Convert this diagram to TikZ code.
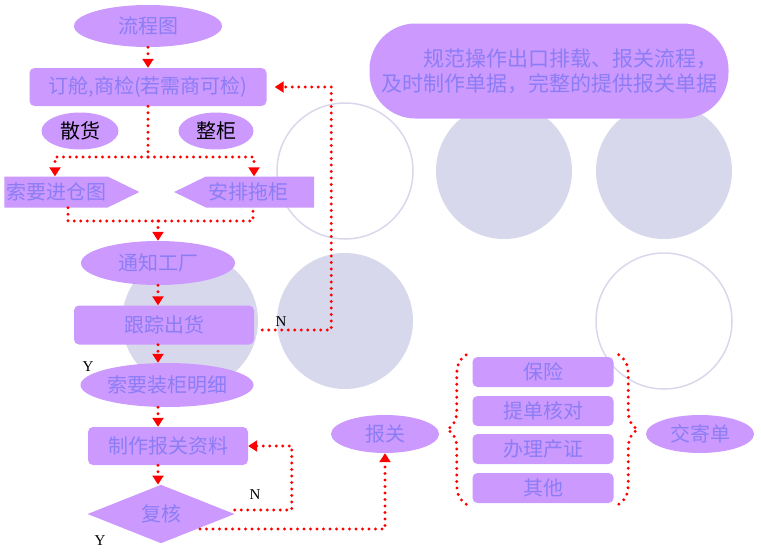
\documentclass[tikz,border=0pt]{standalone}
\usepackage{fontspec}
\setmainfont{Noto Sans CJK SC}
\newfontfamily\yesno{Liberation Serif}
\usetikzlibrary{shapes.geometric,shapes.symbols,arrows.meta,decorations.pathreplacing}
\definecolor{boxfill}{RGB}{204,153,255}
\definecolor{boxtext}{RGB}{140,125,245}
\definecolor{ring}{RGB}{216,216,236}

\begin{document}
\begin{tikzpicture}[x=1pt,y=-1pt,
    flowbox/.style={fill=boxfill,text=boxtext,inner sep=0pt,font=\fontsize{20}{25}\selectfont},
    oval/.style={flowbox,ellipse},
    card/.style={flowbox,rectangle,rounded corners=5pt},
    tag/.style={flowbox,signal,signal pointer angle=52},
    query/.style={flowbox,diamond},
    link/.style={red,line width=3.3pt,line cap=round,dash pattern=on 0pt off 6.5pt},
    flow/.style={link,-{Triangle[length=9pt,width=11pt]}},
    curly/.style={link,decorate,decoration={brace,amplitude=19pt}},
    yn/.style={font=\yesno\fontsize{15}{15}\selectfont,inner sep=0pt}]

        \useasboundingbox (0,0) rectangle (761,554);

        % Background circles
        \foreach \cx/\cy in {504/171,664/171,190/321,345/321}
            \fill[ring] (\cx,\cy) circle[radius=68];
        \foreach \cx/\cy in {345/171,664/321}
            \draw[ring,line width=1.5pt] (\cx,\cy) circle[radius=68];

        % Define vertices
        \node[oval,minimum width=148,minimum height=42] (chart) at (148,26) {流程图};
        \node[card,minimum width=237,minimum height=38] (book) at (148,87) {订舱,商检(若需商可检)};
        \node[oval,text=black,minimum width=77,minimum height=37] (bulk) at (80,131) {散货};
        \node[oval,text=black,minimum width=75,minimum height=37] (fcl) at (216,131) {整柜};
        \node[tag,signal to=east,minimum width=135,minimum height=31] (inmap) at (56,192) {索要进仓图};
        \node[tag,signal to=west,minimum width=140,minimum height=31] (haul) at (260,192) {\makebox[104pt][l]{安排拖柜}};
        \node[oval,minimum width=154,minimum height=44] (notify) at (158,263) {通知工厂};
        \node[card,minimum width=180,minimum height=39] (track) at (164,325) {跟踪出货};
        \node[oval,minimum width=173,minimum height=44] (detail) at (167,385) {索要装柜明细};
        \node[card,minimum width=160,minimum height=38] (docs) at (168,446) {制作报关资料};
        \node[query,minimum width=147,minimum height=57] (review) at (161,514) {复核};
        \node[oval,minimum width=108,minimum height=38] (customs) at (385,434) {报关};
        \node[card,minimum width=141,minimum height=30] (insure) at (543,372) {保险};
        \node[card,minimum width=141,minimum height=30] (lading) at (543,411) {提单核对};
        \node[card,minimum width=141,minimum height=30] (origin) at (543,449) {办理产证};
        \node[card,minimum width=141,minimum height=30] (other) at (543,488) {其他};
        \node[oval,minimum width=108,minimum height=38] (post) at (700,434) {交寄单};
        \node[flowbox,font=\fontsize{21}{25}\selectfont,rounded corners=46pt,align=right,
            minimum width=359,minimum height=95] (goal) at (549,71)
            {规范操作出口排载、报关流程，\\及时制作单据，完整的提供报关单据};

        % Labels
        \node[yn] (yes1) at (88,367) {Y};
        \node[yn] (yes2) at (100,541) {Y};
        \node[yn] (no1) at (281,322) {N};
        \node[yn] (no2) at (255,495) {N};

        % Draw edges
        \coordinate (spine) at (158,0);
        \coordinate (split) at (148,157);
        \coordinate (join) at (158,221);
        \draw[flow] (chart.south) -- (book.north);
        \draw[link] (book.south) -- (split);
        \draw[flow] (split) -| ([xshift=-1pt]inmap.north);
        \draw[flow] (split) -| ([xshift=-6pt]haul.north);
        \draw[link] ([xshift=12pt]inmap.south) |- (join) -| ([xshift=-7pt]haul.south);
        \draw[flow] (join) -- (spine |- notify.north);
        \draw[flow] (spine |- notify.south) -- (spine |- track.north);
        \draw[flow] (spine |- track.south) -- (spine |- detail.north);
        \draw[flow] (spine |- detail.south) -- (spine |- docs.north);
        \draw[flow] (spine |- docs.south) -- (spine |- review.north);
        \draw[flow] ([xshift=8pt,yshift=-5pt]track.east) -- ++(69,0) |- ([xshift=8pt]book.east);
        \draw[flow] ([yshift=4pt]review.east) -- ++(57,0) |- (docs.east);
        \draw[flow] ([xshift=39pt,yshift=-15pt]review.center) -| (customs.south);

        % Braces
        \draw[curly] ([xshift=-6pt,yshift=-1pt]other.south west) -- ([xshift=-6pt,yshift=2pt]insure.north west);
        \draw[curly] ([xshift=5pt,yshift=2pt]insure.north east) -- ([xshift=5pt,yshift=-1pt]other.south east);

\end{tikzpicture}
\end{document}
